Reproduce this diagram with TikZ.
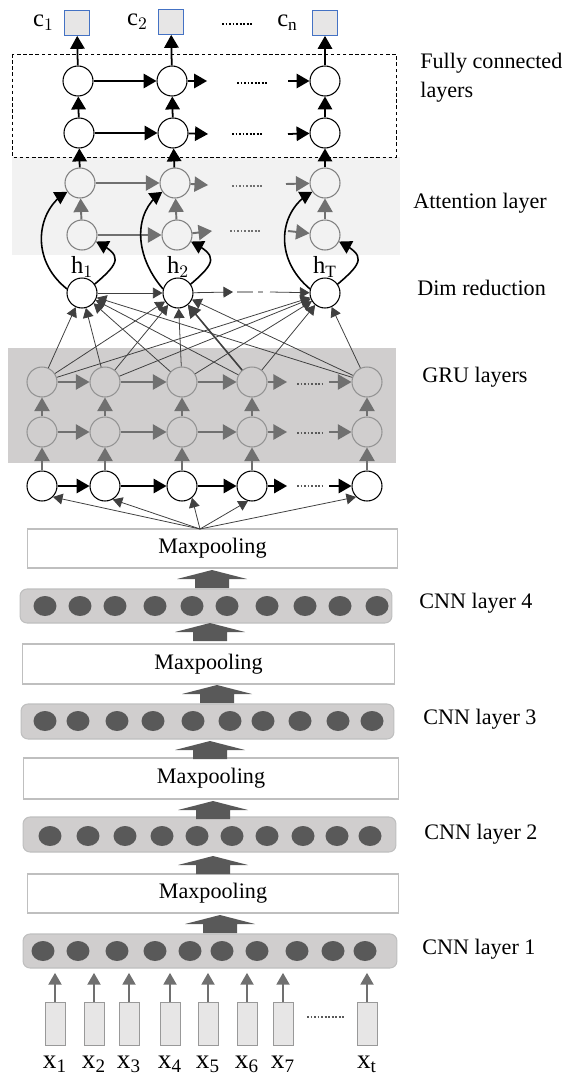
\documentclass[tikz,border=0pt]{standalone}
\usepackage{fontspec}
\setmainfont{Liberation Serif}
\usepackage{tikz}
\usetikzlibrary{arrows}
\usetikzlibrary{positioning}
\usetikzlibrary{calc}
\usetikzlibrary{shapes.geometric}

\definecolor{attback}{HTML}{F2F2F2}
\definecolor{gruback}{HTML}{D0CECE}
\definecolor{dotgray}{HTML}{595959}
\definecolor{arrgray}{HTML}{707070}
\definecolor{boxline}{HTML}{BFBFBF}
\definecolor{inback}{HTML}{E7E6E6}
\definecolor{outline}{HTML}{4472C4}

\begin{document}
\begin{tikzpicture}[x=0.02cm, y=-0.02cm,
  neuron/.style={circle, draw=black, fill=white, line width=0.6pt, minimum size=0.6cm, inner sep=0pt},
  attn/.style={neuron, draw=gray, fill=attback},
  gru/.style={neuron, draw=gray!85, fill=gruback},
  outbox/.style={draw=outline, fill=inback, line width=0.5pt, minimum size=0.5cm, inner sep=0pt},
  inrect/.style={draw=gray!80, fill=inback, line width=0.5pt, minimum width=0.4cm, minimum height=0.86cm, inner sep=0pt},
  pool/.style={draw=boxline, fill=white, line width=0.6pt, inner sep=0pt, font=\fontsize{12.6}{15}\selectfont},
  cnnbar/.style={draw=boxline, fill=gruback, rounded corners=4pt, line width=0.6pt, inner sep=0pt},
  unit/.style={ellipse, fill=dotgray, minimum width=0.46cm, minimum height=0.4cm, inner sep=0pt},
  lbl/.style={anchor=west, inner sep=0pt, font=\fontsize{12.6}{16.4}\selectfont},
  sublbl/.style={inner sep=0pt, font=\fontsize{14}{16}\selectfont},
  fwd/.style={-triangle 60, draw=black, line width=1pt},
  garr/.style={-triangle 60, draw=arrgray, line width=1.1pt},
  link/.style={-triangle 60, draw=black!75, line width=0.45pt},
  curv/.style={-triangle 60, draw=black, line width=0.9pt},
  dotline/.style={line width=1.6pt, dash pattern=on 1.1pt off 0.9pt}]

\useasboundingbox (0,0) rectangle (566,1078);

% layer backgrounds
\fill[attback] (12,157) rectangle (400,255);
\fill[gruback] (8,348) rectangle (396,463);
\draw[line width=0.5pt, dash pattern=on 2pt off 1.5pt] (12,54) rectangle (396,157);

% outputs
\node[outbox] (c1) at (77,23) {};
\node[outbox] (c2) at (171,22) {};
\node[outbox] (c3) at (325,23) {};
\node[sublbl, left=2mm of c1] (c1name) {$\mathrm{c}_1$};
\node[sublbl, left=2mm of c2] (c2name) {$\mathrm{c}_2$};
\node[sublbl, left=2.8mm of c3] (c3name) {$\mathrm{c}_\mathrm{n}$};
\draw[dotline] (222,24) -- (252,24);

% fully connected layers
\node[neuron] (fa1) at (78,81) {};
\node[neuron] (fa2) at (172,81) {};
\node[neuron] (fa3) at (325,81) {};
\node[neuron] (fb1) at (79,133) {};
\node[neuron] (fb2) at (173,133) {};
\node[neuron] (fb3) at (325,133) {};
\coordinate (fa2r) at (207,81);
\coordinate (fa3l) at (288,81);
\coordinate (fb2r) at (208,134);
\coordinate (fb3l) at (288,134);

\draw[fwd] (fa1) -- (fa2);
\draw[fwd] (fa2) -- (fa2r);
\draw[fwd] (fa3l) -- (fa3);
\draw[fwd] (fb1) -- (fb2);
\draw[fwd] (fb2) -- (fb2r);
\draw[fwd] (fb3l) -- (fb3);
\draw[dotline] (237,83) -- (268,83);
\draw[dotline] (232,134) -- (262,134);
\draw[fwd] (fb1) -- (fa1);
\draw[fwd] (fb2) -- (fa2);
\draw[fwd] (fb3) -- (fa3);
\draw[fwd] (fa1) -- (c1);
\draw[fwd] (fa2) -- (c2);
\draw[fwd] (fa3) -- (c3);

% attention layer
\node[attn] (aa1) at (80,183) {};
\node[attn] (aa2) at (175,183) {};
\node[attn] (aa3) at (325,183) {};
\node[attn] (ab1) at (82,235) {};
\node[attn] (ab2) at (177,235) {};
\node[attn] (ab3) at (325,235) {};
\coordinate (aa2r) at (208,185);
\coordinate (aa3l) at (286,184);
\coordinate (ab2r) at (212,231);
\coordinate (ab3l) at (288,231);

\draw[garr] (aa1) -- (aa2);
\draw[garr] (aa2) -- (aa2r);
\draw[garr] (aa3l) -- (aa3);
\draw[garr] (ab1) -- (ab2);
\draw[garr] (ab2) -- (ab2r);
\draw[garr] (ab3l) -- (ab3);
\draw[dotline, arrgray] (232,186) -- (262,186);
\draw[dotline, arrgray] (230,231) -- (260,231);
\draw[garr] (ab1) -- (aa1);
\draw[garr] (ab2) -- (aa2);
\draw[garr] (ab3) -- (aa3);
\draw[fwd] (aa1) -- (fb1);
\draw[fwd] (aa2) -- (fb2);
\draw[fwd] (aa3) -- (fb3);

% dim reduction
\node[neuron] (h1) at (82,293) {};
\node[neuron] (h2) at (178,293) {};
\node[neuron] (h3) at (325,293) {};
\node[sublbl, above=0pt of h1] (h1name) {$\mathrm{h}_1$};
\node[sublbl, above=0pt of h2] (h2name) {$\mathrm{h}_2$};
\node[sublbl, above=0pt of h3] (h3name) {$\mathrm{h}_\mathrm{T}$};
\coordinate (h2r) at (233,292);
\coordinate (h3l) at (270,292);

\draw[link] (h1) -- (h2);
\draw[link] (h2) -- (h2r);
\draw[gray!70, line width=0.6pt, dash pattern=on 9pt off 3pt] (237,292) -- (263,292);
\draw[link] (h3l) -- (h3);

\draw[curv] (h1.165) .. controls +(-38,-30) and +(-30,18) .. (aa1.215);
\draw[curv] (h1.35) .. controls +(26,-22) and +(26,14) .. (ab1.-25);
\draw[curv] (h2.165) .. controls +(-30,-35) and +(-28,20) .. (aa2.215);
\draw[curv] (h2.35) .. controls +(26,-22) and +(26,14) .. (ab2.-25);
\draw[curv] (h3.165) .. controls +(-38,-32) and +(-32,18) .. (aa3.215);
\draw[curv] (h3.35) .. controls +(26,-22) and +(26,14) .. (ab3.-25);

% GRU layers
\node[gru] (ga1) at (42,382) {};
\node[gru] (ga2) at (105,382) {};
\node[gru] (ga3) at (182,382) {};
\node[gru] (ga4) at (252,382) {};
\node[gru] (ga5) at (367,382) {};
\node[gru] (gb1) at (42,432) {};
\node[gru] (gb2) at (105,432) {};
\node[gru] (gb3) at (182,432) {};
\node[gru] (gb4) at (252,432) {};
\node[gru] (gb5) at (367,432) {};
\node[neuron] (in1) at (42,486) {};
\node[neuron] (in2) at (105,486) {};
\node[neuron] (in3) at (182,486) {};
\node[neuron] (in4) at (252,486) {};
\node[neuron] (in5) at (367,486) {};
\coordinate (ga4r) at (287,382);
\coordinate (ga5l) at (329,382);
\coordinate (gb4r) at (287,432);
\coordinate (gb5l) at (329,432);
\coordinate (in4r) at (287,486);
\coordinate (in5l) at (329,486);

\draw[garr] (ga1) -- (ga2);
\draw[garr] (ga2) -- (ga3);
\draw[garr] (ga3) -- (ga4);
\draw[garr] (ga4) -- (ga4r);
\draw[garr] (ga5l) -- (ga5);
\draw[garr] (gb1) -- (gb2);
\draw[garr] (gb2) -- (gb3);
\draw[garr] (gb3) -- (gb4);
\draw[garr] (gb4) -- (gb4r);
\draw[garr] (gb5l) -- (gb5);
\draw[fwd] (in1) -- (in2);
\draw[fwd] (in2) -- (in3);
\draw[fwd] (in3) -- (in4);
\draw[fwd] (in4) -- (in4r);
\draw[fwd] (in5l) -- (in5);
\draw[dotline, dotgray] (297,384) -- (322,384);
\draw[dotline, dotgray] (297,433) -- (322,433);
\draw[dotline, dotgray] (297,486) -- (322,486);
\foreach \i in {1,...,5} {
  \draw[garr] (in\i) -- (gb\i);
  \draw[garr] (gb\i) -- (ga\i);
  \foreach \j in {1,2,3}
    \draw[link] (ga\i) -- (h\j);
}
\draw[link, line width=0.9pt] (ga4) -- (h2);

% CNN part
\node[pool, minimum width=7.42cm, minimum height=0.78cm] (mp4) at (212.5,548.5) {Maxpooling};
\node[pool, minimum width=7.46cm, minimum height=0.8cm] (mp3) at (208.5,664) {Maxpooling};
\node[pool, minimum width=7.52cm, minimum height=0.82cm] (mp2) at (211,778.5) {Maxpooling};
\node[pool, minimum width=7.44cm, minimum height=0.78cm] (mp1) at (213,893.5) {Maxpooling};
\node[cnnbar, minimum width=7.44cm, minimum height=0.68cm] (cnn4) at (206,606) {};
\node[cnnbar, minimum width=7.46cm, minimum height=0.7cm] (cnn3) at (207.5,721.5) {};
\node[cnnbar, minimum width=7.46cm, minimum height=0.7cm] (cnn2) at (209.5,834.5) {};
\node[cnnbar, minimum width=7.48cm, minimum height=0.68cm] (cnn1) at (210,951) {};

\foreach \ux [count=\k] in {45,80,115,155,192,227,267,305,340,377}
  \node[unit] (u4-\k) at (\ux,606) {};
\foreach \ux [count=\k] in {45,78,117,153,193,230,263,300,338,372}
  \node[unit] (u3-\k) at (\ux,721) {};
\foreach \ux [count=\k] in {50,88,125,162,197,232,267,303,337,370}
  \node[unit] (u2-\k) at (\ux,836) {};
\foreach \ux [count=\k] in {43,78,117,155,190,222,257,297,333,365}
  \node[unit] (u1-\k) at (\ux,951) {};

\foreach \bx/\by in {212/570, 210/623, 217/685, 210/741, 213/801, 213/856, 220/915}
  \fill[dotgray] (\bx-35,\by+9) -- (\bx,\by) -- (\bx+35,\by+9) -- (\bx+17,\by+9)
    -- (\bx+17,\by+18) -- (\bx-17,\by+18) -- (\bx-17,\by+9) -- cycle;

\coordinate (fan) at (200,529);
\draw[link] (fan) -- (in1.-45);
\draw[link] (fan) -- (in2.-60);
\draw[link] (fan) -- (in3.-50);
\draw[link] (fan) -- (in4.-105);
\draw[link] (fan) -- (in5.-135);

% inputs
\foreach \i/\xx/\s in {1/55/1, 2/94/2, 3/129/3, 4/170/4, 5/208/5, 6/247/6, 7/283/7, 8/367/t} {
  \node[inrect] (xr\i) at (\xx,1024) {};
  \draw[garr, line width=0.8pt, shorten >=2.5pt] (xr\i.north) -- (xr\i.north |- cnn1.south);
  \node[sublbl, font=\fontsize{15.5}{17}\selectfont, below=2mm of xr\i] (xname\i) {$\mathrm{x}_\mathrm{\s}$};
}
\draw[dotline, dotgray] (307,1017) -- (345,1017);

% layer names
\node[lbl, align=left] (fcname) at (420,77.5) {Fully connected\\layers};
\node[lbl] (attname) at (413,203) {Attention layer};
\node[lbl] (dimname) at (417,288) {Dim reduction};
\node[lbl] (gruname) at (422,377) {GRU layers};
\node[lbl] (cnn4name) at (419,603) {CNN layer 4};
\node[lbl] (cnn3name) at (423,719) {CNN layer 3};
\node[lbl] (cnn2name) at (424,834) {CNN layer 2};
\node[lbl] (cnn1name) at (422,949) {CNN layer 1};
\end{tikzpicture}
\end{document}
